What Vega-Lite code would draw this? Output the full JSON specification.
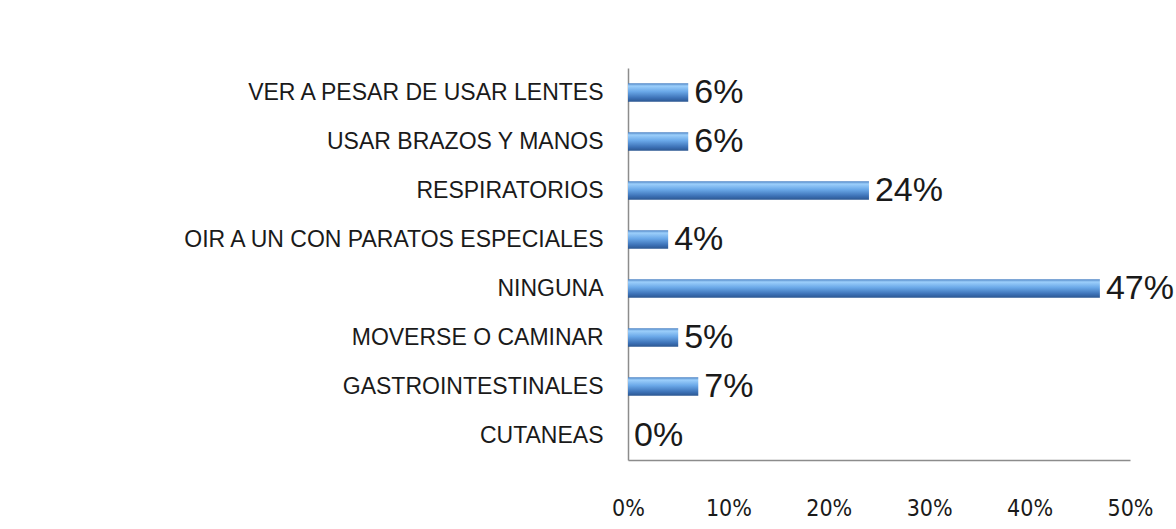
{
  "$schema": "https://vega.github.io/schema/vega-lite/v6.json",
  "autosize": {"type": "none"},
  "width": 502,
  "height": 392,
  "padding": {"left": 628, "top": 68, "right": 46, "bottom": 69},
  "background": "white",
  "config": {"view": {"stroke": null}},
  "data": {
    "values": [
      {"categoria": "VER A PESAR DE USAR LENTES", "valor": 0.06, "orden": 1},
      {"categoria": "USAR BRAZOS Y MANOS", "valor": 0.06, "orden": 2},
      {"categoria": "RESPIRATORIOS", "valor": 0.24, "orden": 3},
      {"categoria": "OIR A UN CON PARATOS ESPECIALES", "valor": 0.04, "orden": 4},
      {"categoria": "NINGUNA", "valor": 0.47, "orden": 5},
      {"categoria": "MOVERSE O CAMINAR", "valor": 0.05, "orden": 6},
      {"categoria": "GASTROINTESTINALES", "valor": 0.07, "orden": 7},
      {"categoria": "CUTANEAS", "valor": 0.0, "orden": 8}
    ]
  },
  "encoding": {
    "y": {
      "field": "categoria",
      "type": "nominal",
      "sort": {"field": "orden", "order": "ascending"},
      "scale": {"paddingInner": 0.62},
      "axis": {
        "title": null,
        "ticks": false,
        "domainColor": "#8c8c8c",
        "domainWidth": 1.5,
        "labelFont": "Liberation Sans",
        "labelFontSize": 23,
        "labelColor": "#1a1a1a",
        "labelPadding": 25,
        "labelLimit": 600
      }
    },
    "x": {
      "field": "valor",
      "type": "quantitative",
      "scale": {"domain": [0, 0.5], "nice": false},
      "axis": {
        "title": null,
        "format": ".0%",
        "values": [0, 0.1, 0.2, 0.3, 0.4, 0.5],
        "grid": false,
        "ticks": false,
        "labelFlush": false,
        "labelOverlap": false,
        "domainColor": "#8c8c8c",
        "domainWidth": 1.5,
        "labelFont": "DejaVu Sans Condensed",
        "labelFontSize": 23,
        "labelColor": "#1a1a1a",
        "labelPadding": 37
      }
    }
  },
  "layer": [
    {
      "mark": {
        "type": "bar",
        "color": {
          "gradient": "linear",
          "x1": 0, "y1": 0, "x2": 0, "y2": 1,
          "stops": [
            {"offset": 0, "color": "#4a80c2"},
            {"offset": 0.15, "color": "#9ccffb"},
            {"offset": 0.45, "color": "#6aa8e8"},
            {"offset": 0.8, "color": "#3c71b6"},
            {"offset": 1, "color": "#2b5690"}
          ]
        }
      }
    },
    {
      "mark": {
        "type": "text",
        "align": "left",
        "baseline": "middle",
        "dx": 6,
        "font": "Liberation Sans",
        "fontSize": 34,
        "color": "#1a1a1a"
      },
      "encoding": {
        "text": {"field": "valor", "type": "quantitative", "format": ".0%"}
      }
    }
  ]
}
